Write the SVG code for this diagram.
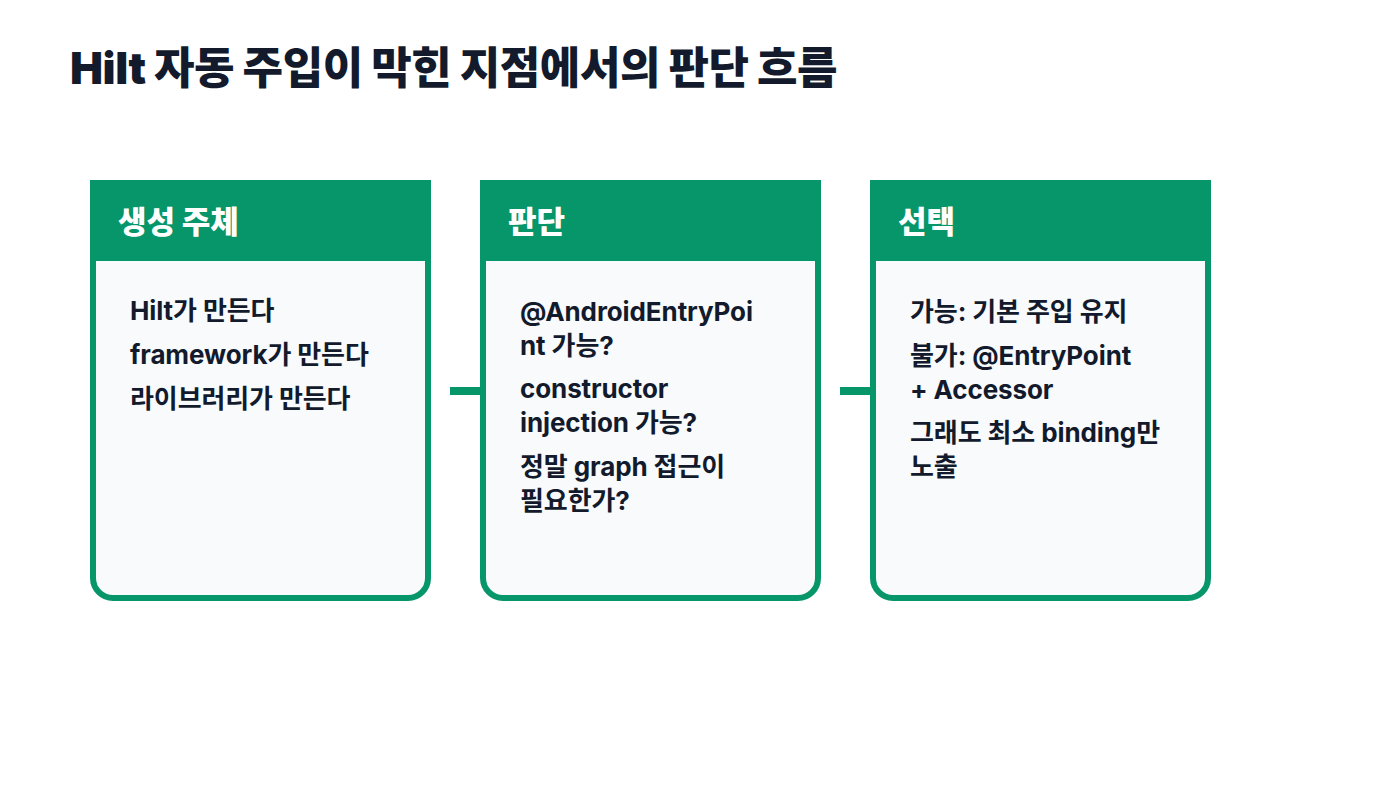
<svg xmlns="http://www.w3.org/2000/svg" width="1400" height="800" viewBox="0 0 1400 800">
<defs>
<style>
.title{font-family:Inter,"Noto Sans CJK KR",sans-serif;font-weight:900;font-size:44px;fill:#121a2c;letter-spacing:-0.4px}
.head{font-family:Inter,"Noto Sans CJK KR",sans-serif;font-weight:800;font-size:31px;fill:#ffffff;letter-spacing:0px}
.body{font-family:Inter,"Noto Sans CJK KR",sans-serif;font-weight:700;font-size:26px;fill:#121a2c;letter-spacing:-0.1px}
.card{fill:#f8fafc;stroke:#069669;stroke-width:6}
.hdr{fill:#069669}
.conn{stroke:#069669;stroke-width:8;fill:none}
</style>
</defs>
<rect width="1400" height="800" fill="#ffffff"/>
<text class="title" x="70" y="84">Hilt 자동 주입이 막힌 지점에서의 판단 흐름</text>
<g id="connectors">
<line class="conn" x1="450" y1="391" x2="482" y2="391"/>
<line class="conn" x1="840" y1="391" x2="872" y2="391"/>
</g>
<g id="node-creator">
<path class="card" d="M93,183 H428 V578 A20,20 0 0 1 408,598 H113 A20,20 0 0 1 93,578 Z"/>
<rect class="hdr" x="90" y="180" width="341" height="81"/>
<text class="head" x="118" y="233">생성 주체</text>
<text class="body" x="130" y="320">Hilt가 만든다</text>
<text class="body" x="130" y="364">framework가 만든다</text>
<text class="body" x="130" y="408">라이브러리가 만든다</text>
</g>
<g id="node-judge">
<path class="card" d="M483,183 H818 V578 A20,20 0 0 1 798,598 H503 A20,20 0 0 1 483,578 Z"/>
<rect class="hdr" x="480" y="180" width="341" height="81"/>
<text class="head" x="508" y="233">판단</text>
<text class="body" x="520" y="321">@AndroidEntryPoi</text>
<text class="body" x="520" y="355">nt 가능?</text>
<text class="body" x="520" y="398">constructor</text>
<text class="body" x="520" y="432">injection 가능?</text>
<text class="body" x="520" y="476">정말 graph 접근이</text>
<text class="body" x="520" y="510">필요한가?</text>
</g>
<g id="node-choice">
<path class="card" d="M873,183 H1208 V578 A20,20 0 0 1 1188,598 H893 A20,20 0 0 1 873,578 Z"/>
<rect class="hdr" x="870" y="180" width="341" height="81"/>
<text class="head" x="898" y="233">선택</text>
<text class="body" x="910" y="321">가능: 기본 주입 유지</text>
<text class="body" x="910" y="365">불가: @EntryPoint</text>
<text class="body" x="910" y="399">+ Accessor</text>
<text class="body" x="910" y="442">그래도 최소 binding만</text>
<text class="body" x="910" y="476">노출</text>
</g>
</svg>
